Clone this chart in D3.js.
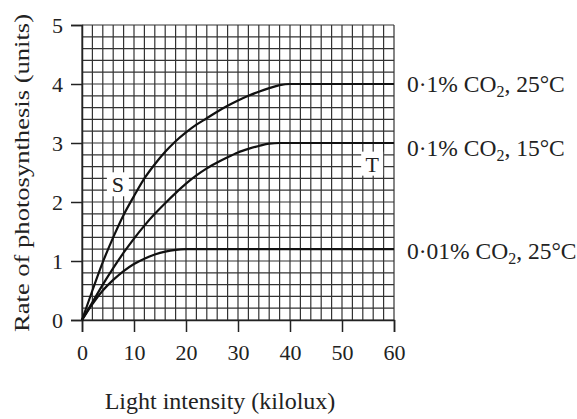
<!DOCTYPE html>
<html>
<head>
<meta charset="utf-8">
<script src="https://cdn.jsdelivr.net/npm/d3@7"></script>
<style>
  body { margin: 0; background: #fff; }
  text { font-family: "Liberation Serif", "DejaVu Serif", serif; fill: #222; }
</style>
</head>
<body>
<div id="chart"></div>
<script>
// values
var xTicks = [0, 10, 20, 30, 40, 50, 60];
var yTicks = [0, 1, 2, 3, 4, 5];

var lightHigh25 = [[0,0],[2,0.5],[4,0.98],[6,1.4],[8,1.78],[10,2.1],[12,2.4],[14,2.64],[16,2.85],[18,3.03],[20,3.18],[22,3.31],[24,3.42],[26,3.53],[28,3.63],[30,3.72],[32,3.8],[34,3.87],[36,3.93],[38,3.98],[40,4.0],[60,4.0]];
var lightHigh15 = [[0,0],[2,0.3],[4,0.6],[6,0.88],[8,1.14],[10,1.38],[12,1.6],[14,1.8],[16,1.98],[18,2.15],[20,2.31],[22,2.45],[24,2.57],[26,2.67],[28,2.76],[30,2.84],[32,2.9],[34,2.95],[36,2.99],[38,3.0],[60,3.0]];
var lightLow25 = [[0,0],[2,0.27],[4,0.5],[6,0.68],[8,0.83],[10,0.95],[12,1.04],[14,1.11],[16,1.16],[18,1.19],[20,1.2],[60,1.2]];

var seriesLabels = [
  {pre: "0·1% CO", post: ", 25°C", y: 4},
  {pre: "0·1% CO", post: ", 15°C", y: 3},
  {pre: "0·01% CO", post: ", 25°C", y: 1.2}
];

var svgWidth = 577;
var svgHeight = 419;

var svg = d3.select("#chart")
    .append("svg")
    .attr("width", svgWidth)
    .attr("height", svgHeight);

var x = d3.scaleLinear().domain([0, 60]).range([82, 394]);
var y = d3.scaleLinear().domain([0, 5]).range([320, 25]);

// fine grid, 2 kilolux by 0.2 units
var grid = svg.append("g").attr("stroke", "#333").attr("stroke-width", 1.2);
d3.range(0, 61, 2).forEach(function(v) {
  grid.append("line")
    .attr("x1", x(v)).attr("x2", x(v))
    .attr("y1", y(0)).attr("y2", y(5));
});
d3.range(0, 26).forEach(function(i) {
  var v = i * 0.2;
  grid.append("line")
    .attr("x1", x(0)).attr("x2", x(60))
    .attr("y1", y(v)).attr("y2", y(v));
});

// axes
var yAxis = d3.axisLeft(y).tickValues(yTicks).tickFormat(d3.format("d")).tickSize(11).tickPadding(8);
var xAxis = d3.axisBottom(x).tickValues(xTicks).tickFormat(d3.format("d")).tickSize(12).tickPadding(12);

var gy = svg.append("g").attr("transform", `translate(${x(0)},0)`).call(yAxis);
var gx = svg.append("g").attr("transform", `translate(0,${y(0)})`).call(xAxis);
[gy, gx].forEach(function(g) {
  g.select(".domain").attr("stroke", "#222").attr("stroke-width", 1.5);
  g.selectAll(".tick line").attr("stroke", "#222").attr("stroke-width", 1.5);
  g.selectAll(".tick text")
    .attr("font-family", "Liberation Serif, serif")
    .attr("font-size", 22)
    .attr("fill", "#222");
});

// curves
var line = d3.line()
    .x(d => x(d[0]))
    .y(d => y(d[1]))
    .curve(d3.curveMonotoneX);

[lightHigh25, lightHigh15, lightLow25].forEach(function(s) {
  svg.append("path")
    .datum(s)
    .attr("fill", "none")
    .attr("stroke", "#111")
    .attr("stroke-width", 2.2)
    .attr("d", line);
});

// S and T labels on white boxes
function boxLabel(txt, cx, cy) {
  svg.append("rect")
    .attr("x", cx - 11).attr("y", cy - 12)
    .attr("width", 22).attr("height", 24)
    .attr("fill", "#fff");
  svg.append("text")
    .attr("x", cx).attr("y", cy + 8)
    .attr("text-anchor", "middle")
    .attr("font-size", 22)
    .text(txt);
}
boxLabel("S", x(6.9), y(2.3));
boxLabel("T", x(55.8), y(2.65));

// series labels on the right
var labelShift = [8, 13, 10];
seriesLabels.forEach(function(d, i) {
  var t = svg.append("text")
    .attr("x", 407)
    .attr("y", y(d.y) + labelShift[i])
    .attr("font-size", 23.5);
  t.append("tspan").text(d.pre);
  t.append("tspan").attr("font-size", 16).attr("dy", 5).text("2");
  t.append("tspan").attr("dy", -5).text(d.post);
});

// axis titles
svg.append("text")
  .attr("transform", `translate(29, 173) rotate(-90)`)
  .attr("text-anchor", "middle")
  .attr("font-size", 21)
  .attr("textLength", 318)
  .attr("lengthAdjust", "spacingAndGlyphs")
  .text("Rate of photosynthesis (units)");

svg.append("text")
  .attr("x", 220)
  .attr("y", 409)
  .attr("text-anchor", "middle")
  .attr("font-size", 24)
  .text("Light intensity (kilolux)");
</script>
</body>
</html>
